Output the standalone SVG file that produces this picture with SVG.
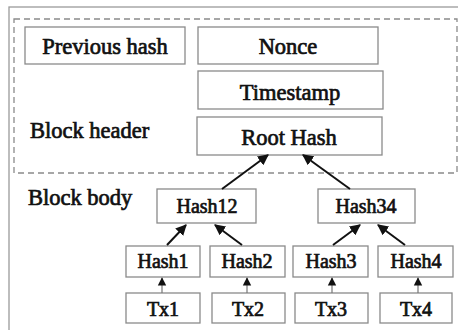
<svg xmlns="http://www.w3.org/2000/svg" width="458" height="330" viewBox="0 0 458 330">
<style>
.box{fill:#fff;stroke:#8a8a8a;stroke-width:1.3}
.t{font-family:"Liberation Serif","Times New Roman",serif;fill:#111;stroke:#111;stroke-width:0.7;text-anchor:middle}
.big{font-size:22.5px}
.sm{font-size:20px}
.lbl{text-anchor:start}
.c{stroke:#111;stroke-width:2;fill:none}
.cs{stroke:#777;stroke-width:1.2;fill:none}
</style>
<defs>
<marker id="ah" viewBox="0 0 10 10" refX="9" refY="5" markerWidth="5.5" markerHeight="5.5" markerUnits="strokeWidth" orient="auto">
<path d="M0,0 L10,5 L0,10 z" fill="#111"/>
</marker>
<marker id="ahs" viewBox="0 0 10 10" refX="9" refY="5" markerWidth="7" markerHeight="8" markerUnits="strokeWidth" orient="auto">
<path d="M0,0 L10,5 L0,10 z" fill="#111"/>
</marker>
</defs>
<rect width="458" height="330" fill="#fff"/>
<rect x="9" y="7" width="470" height="340" fill="none" stroke="#9a9a9a" stroke-width="1.3"/>
<rect id="header" x="14" y="19" width="443" height="154" fill="none" stroke="#8a8a8a" stroke-width="1.3" stroke-dasharray="6,4"/>
<g id="labels">
<text class="t big lbl" x="30" y="138">Block header</text>
<text class="t big lbl" x="28" y="205">Block body</text>
</g>
<g id="prevhash"><rect class="box" x="25" y="27" width="160" height="37"/><text class="t big" x="105" y="54">Previous hash</text></g>
<g id="nonce"><rect class="box" x="198" y="27" width="180" height="37"/><text class="t big" x="288" y="54">Nonce</text></g>
<g id="timestamp"><rect class="box" x="198" y="71" width="185" height="38"/><text class="t big" x="290" y="100">Timestamp</text></g>
<g id="roothash"><rect class="box" x="197" y="117" width="185" height="38"/><text class="t big" x="289" y="145">Root Hash</text></g>
<g id="hash12"><rect class="box" x="157" y="189" width="99" height="34"/><text class="t sm" x="207" y="213">Hash12</text></g>
<g id="hash34"><rect class="box" x="318" y="189" width="97" height="34"/><text class="t sm" x="366" y="213">Hash34</text></g>
<g id="hash1"><rect class="box" x="126" y="246" width="74" height="31"/><text class="t sm" x="163" y="268">Hash1</text></g>
<g id="hash2"><rect class="box" x="210" y="246" width="75" height="31"/><text class="t sm" x="247" y="268">Hash2</text></g>
<g id="hash3"><rect class="box" x="293" y="246" width="75" height="31"/><text class="t sm" x="331" y="268">Hash3</text></g>
<g id="hash4"><rect class="box" x="378" y="246" width="75" height="31"/><text class="t sm" x="416" y="268">Hash4</text></g>
<g id="tx1"><rect class="box" x="126" y="293" width="74" height="30"/><text class="t sm" x="163" y="316">Tx1</text></g>
<g id="tx2"><rect class="box" x="212" y="293" width="73" height="30"/><text class="t sm" x="248" y="316">Tx2</text></g>
<g id="tx3"><rect class="box" x="295" y="293" width="73" height="30"/><text class="t sm" x="331" y="316">Tx3</text></g>
<g id="tx4"><rect class="box" x="380" y="293" width="72" height="30"/><text class="t sm" x="416" y="316">Tx4</text></g>
<g id="connectors">
<line class="c" x1="222" y1="189" x2="268" y2="155" marker-end="url(#ah)"/>
<line class="c" x1="350" y1="189" x2="303" y2="155" marker-end="url(#ah)"/>
<line class="c" x1="167" y1="245" x2="186" y2="225" marker-end="url(#ah)"/>
<line class="c" x1="242" y1="245" x2="215" y2="225" marker-end="url(#ah)"/>
<line class="c" x1="333" y1="245" x2="360" y2="225" marker-end="url(#ah)"/>
<line class="c" x1="405" y1="245" x2="378" y2="225" marker-end="url(#ah)"/>
<line class="cs" x1="162" y1="293" x2="162" y2="278" marker-end="url(#ahs)"/>
<line class="cs" x1="247" y1="293" x2="247" y2="278" marker-end="url(#ahs)"/>
<line class="cs" x1="332" y1="293" x2="332" y2="278" marker-end="url(#ahs)"/>
<line class="cs" x1="418" y1="293" x2="418" y2="278" marker-end="url(#ahs)"/>
</g>
</svg>
